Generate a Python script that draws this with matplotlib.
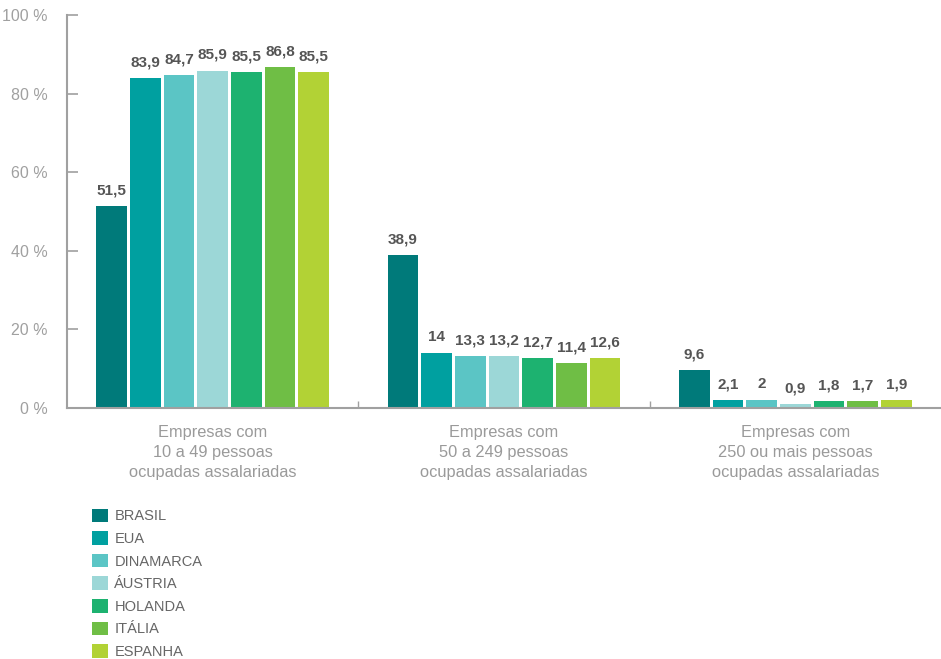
import matplotlib.pyplot as plt
import numpy as np
from matplotlib.patches import Patch

# Share of companies by size class (%)
groups = ["Empresas com\n10 a 49 pessoas\nocupadas assalariadas",
          "Empresas com\n50 a 249 pessoas\nocupadas assalariadas",
          "Empresas com\n250 ou mais pessoas\nocupadas assalariadas"]
countries = ["BRASIL", "EUA", "DINAMARCA", "ÁUSTRIA", "HOLANDA", "ITÁLIA", "ESPANHA"]
brasil = [51.5, 38.9, 9.6]
eua = [83.9, 14, 2.1]
dinamarca = [84.7, 13.3, 2]
austria = [85.9, 13.2, 0.9]
holanda = [85.5, 12.7, 1.8]
italia = [86.8, 11.4, 1.7]
espanha = [85.5, 12.6, 1.9]
series = [brasil, eua, dinamarca, austria, holanda, italia, espanha]
colors = ["#007a7a", "#00a0a0", "#5bc5c5", "#9cd7d7", "#1db270", "#6fbe45", "#b2d235"]
yticks = [0, 20, 40, 60, 80, 100]

plt.rcParams['font.family'] = ['Liberation Sans', 'DejaVu Sans']

fig = plt.figure(figsize=(9.41, 6.59), dpi=100)
ax = fig.add_axes([0.0712, 0.381, 0.9288, 0.596])

x = np.arange(len(groups))
slot = 0.1156
bw = 0.105
for i, (vals, c) in enumerate(zip(series, colors)):
    pos = x + (i - 3) * slot
    ax.bar(pos, vals, width=bw, color=c, edgecolor='none')
    for p, v in zip(pos, vals):
        txt = f"{v:g}".replace('.', ',')
        ax.text(p, v + 2.2, txt, ha='center', va='bottom', fontsize=11,
                fontweight='bold', color='#555555')

ax.set_xlim(-0.5, 2.5)
ax.set_ylim(0, 100)
ax.set_yticks(yticks)
ax.set_yticklabels([f"{t} %" for t in yticks], color='#a0a0a0', fontsize=11.5)
ax.tick_params(axis='y', direction='in', length=8, width=1.2, color='#a0a0a0', pad=14)

# group separators on the x axis
ax.set_xticks([0.5, 1.5])
ax.set_xticklabels([])
ax.tick_params(axis='x', direction='in', length=5, width=1, color='#a0a0a0')
for xi, g in zip(x, groups):
    ax.text(xi, -4.3, g, ha='center', va='top', fontsize=11.8, color='#9a9a9a',
            linespacing=1.42, transform=ax.transData)

for s in ['top', 'right']:
    ax.spines[s].set_visible(False)
ax.spines['left'].set_color('#a0a0a0')
ax.spines['left'].set_linewidth(1.5)
ax.spines['bottom'].set_color('#a0a0a0')
ax.spines['bottom'].set_linewidth(1.5)

handles = [Patch(facecolor=c, edgecolor='none', label=n) for n, c in zip(countries, colors)]
leg = fig.legend(handles=handles, loc='upper left', bbox_to_anchor=(0.092, 0.237),
                 frameon=False, fontsize=10.5, handlelength=1.05, handleheight=1.05,
                 handletextpad=0.45, labelspacing=0.54, borderaxespad=0)
for t in leg.get_texts():
    t.set_color('#666666')

fig.savefig("out.png", dpi=100)
